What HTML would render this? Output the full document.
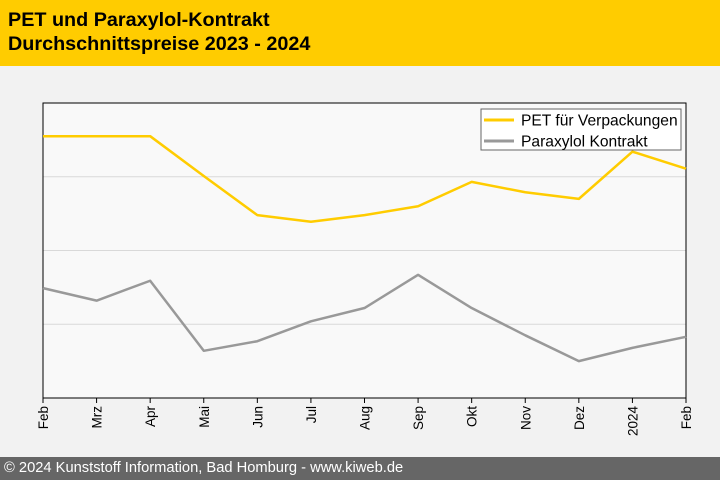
<!DOCTYPE html>
<html><head><meta charset="utf-8"><style>
body{margin:0;width:720px;height:480px;overflow:hidden;background:#f2f2f2;font-family:"Liberation Sans",sans-serif}
#hdr{position:absolute;left:0;top:0;width:720px;height:66px;background:#ffcc00}
#hdr div{position:absolute;left:8px;font-weight:bold;font-size:19.8px;color:#000}
#ftr{position:absolute;left:0;top:457px;width:720px;height:23px;background:#666;color:#fff;font-size:14.7px;line-height:23px;padding-left:4px;box-sizing:border-box}
svg{position:absolute;left:0;top:0}
</style></head><body>
<div id="hdr">
<div style="top:9px">PET und Paraxylol-Kontrakt</div>
<div style="top:33px">Durchschnittspreise 2023 - 2024</div>
</div>
<svg id="chart" width="720" height="480"></svg>
<div id="ftr">© 2024 Kunststoff Information, Bad Homburg - www.kiweb.de</div>
<script>
const categories=["Feb","Mrz","Apr","Mai","Jun","Jul","Aug","Sep","Okt","Nov","Dez","2024","Feb"];
const petValues=[3.55,3.55,3.55,3.01,2.48,2.39,2.48,2.60,2.93,2.79,2.70,3.34,3.11];
const paraValues=[1.49,1.32,1.59,0.64,0.77,1.04,1.22,1.67,1.22,0.85,0.50,0.68,0.83];
const gridValues=[1,2,3];
const NS="http://www.w3.org/2000/svg";
const svg=document.getElementById('chart');
const L=43,R=686,T=103,B=398,YMAX=4;
const xs=i=>L+i*(R-L)/(categories.length-1);
const ys=v=>B-v/YMAX*(B-T);
function mk(t,a){const e=document.createElementNS(NS,t);for(const k in a)e.setAttribute(k,a[k]);svg.appendChild(e);return e;}
let bg=mk('rect',{x:L,y:T,width:R-L,height:B-T,fill:'#f9f9f9'});


gridValues.forEach(g=>{const l=mk('line',{x1:L,x2:R,y1:ys(g),y2:ys(g),stroke:'#d9d9d9','stroke-width':1});

});
let fr=mk('rect',{x:L,y:T,width:R-L,height:B-T,fill:'none',stroke:'#000','stroke-width':1});


categories.forEach((c,i)=>{const x=xs(i);
const tk=mk('line',{x1:x,x2:x,y1:B,y2:B+5,stroke:'#000'});


const t=mk('text',{x:x+5,y:B+8,transform:`rotate(-90 ${x+5} ${B+8})`,'text-anchor':'end','font-size':13.5,fill:'#000','font-family':'Liberation Sans, sans-serif'});
t.textContent=c;

});
function line(vals,col,name){const p=mk('polyline',{points:vals.map((v,i)=>xs(i)+','+ys(v)).join(' '),fill:'none',stroke:col,'stroke-width':2.5,'stroke-linejoin':'round'});

}
line(petValues,'#ffcc00','pet-line');
line(paraValues,'#999999','paraxylol-line');
const lg=mk('rect',{x:481,y:109,width:200,height:41,fill:'#fff',stroke:'#666'});


[['PET für Verpackungen','#ffcc00'],['Paraxylol Kontrakt','#999999']].forEach((d,i)=>{const y=120+i*21;
const l=mk('line',{x1:484,x2:514,y1:y,y2:y,stroke:d[1],'stroke-width':3});


const t=mk('text',{x:521,y:y+5.5,'font-size':15.6,fill:'#000','font-family':'Liberation Sans, sans-serif'});
t.textContent=d[0];

});
</script>
</body></html>
